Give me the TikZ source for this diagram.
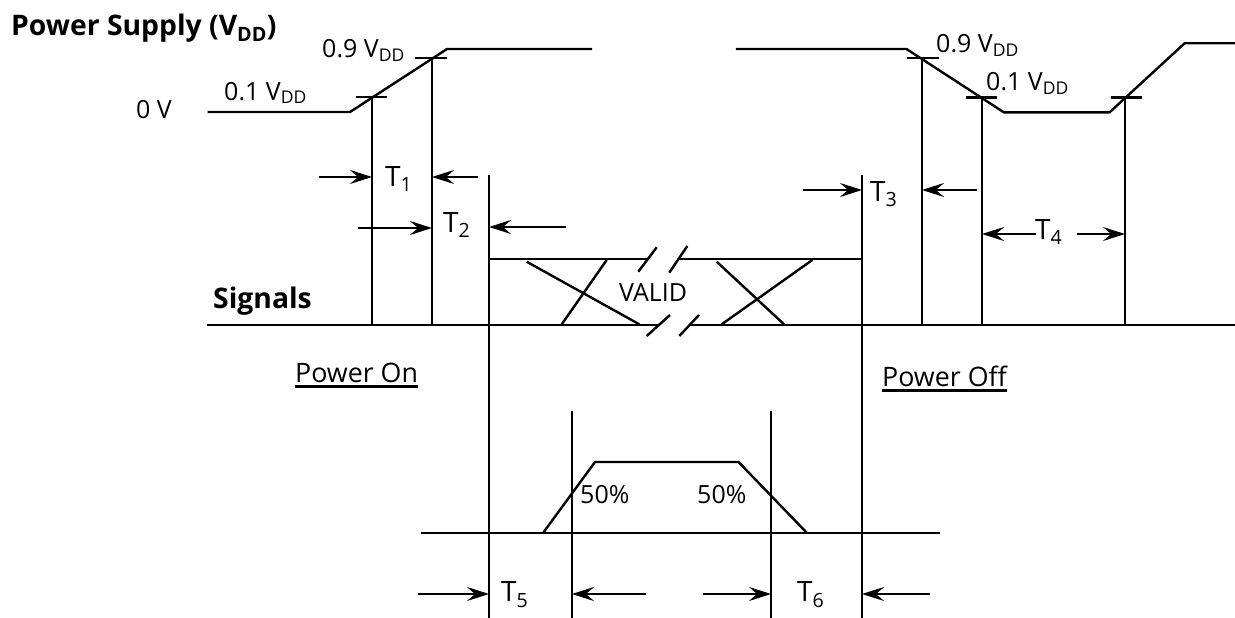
\documentclass[tikz,border=0pt]{standalone}
\usepackage{fontspec}
\setmainfont{Open Sans}
\usetikzlibrary{arrows.meta}
\newcommand\vdd{V\textsubscript{DD}}
\begin{document}
\begin{tikzpicture}[x=1pt,y=-1pt,
  wave/.style={line width=2.4pt, line join=round},
  tickmark/.style={line width=2.4pt},
  guide/.style={line width=2.6pt},
  dimarrow/.style={line width=2.4pt,-{Stealth[length=22pt,width=14pt,inset=8pt]}},
  lbl/.style={inner sep=0pt, anchor=base west, font=\fontsize{25}{28}\selectfont},
  tlbl/.style={inner sep=0pt, anchor=base west, font=\fontsize{28}{32}\selectfont},
  head/.style={inner sep=0pt, anchor=base west, font=\fontsize{28.3}{32}\selectfont\bfseries},
  ulbl/.style={inner sep=0pt, anchor=base west, font=\fontsize{26.8}{30}\selectfont},
]
\useasboundingbox[fill=white] (0,0) rectangle (1235,618);

% ---------- headings ----------
\node[head] (ps) at (11,36) {Power Supply (\vdd)};
\node[head] (sig) at (213,308) {Signals};

% ---------- power supply waveform, power on ----------
\draw[wave] (207.5,112) -- (350,112) -- (447,49) -- (592,49);
\draw[tickmark] (356,97) -- (387,97);
\draw[tickmark] (415,58) -- (447,58);
\node[lbl] (zv) at (136,118) {0 V};
\node[lbl] (l01) at (224,100) {0.1 \vdd};
\node[lbl] (l09) at (322,58) {0.9 \vdd};

% ---------- power supply waveform, power off ----------
\draw[wave] (735.8,49) -- (906.5,49) -- (1003.8,112.3) -- (1109.6,112.3) -- (1184.6,43.3) -- (1235,43.3);
\draw[tickmark] (906.5,58.3) -- (939,58.3);
\draw[tickmark] (965.5,97.7) -- (997,97.7);
\draw[tickmark] (1111,97.7) -- (1142,97.7);
\node[lbl] (r09) at (936,52.7) {0.9 \vdd};
\node[lbl] (r01) at (986,90.7) {0.1 \vdd};

% ---------- vertical guide lines ----------
\draw[guide] (372,97) -- (372,325);
\draw[guide] (432,58) -- (432,325);
\draw[guide] (489,175) -- (489,618);
\draw[guide] (862,175) -- (862,618);
\draw[guide] (922,58.3) -- (922,325);
\draw[guide] (982,97.7) -- (982,325);
\draw[guide] (1125,97.7) -- (1125,325);
\draw[guide] (572,411) -- (572,618);
\draw[guide] (771,411) -- (771,618);

% ---------- signals ----------
\draw[wave] (207,325) -- (658,325);
\draw[wave] (690,325) -- (1235,325);
\draw[wave] (489,259) -- (647.5,259);
\draw[wave] (678,259) -- (862,259);
% crossings
\draw[wave] (526.7,261.7) -- (639.3,324.3);
\draw[wave] (561.7,324.3) -- (606.7,260);
\draw[wave] (716.7,261.7) -- (784,324.3);
\draw[wave] (721.7,324.3) -- (812.3,260);
% break marks
\draw[wave] (638.3,271.7) -- (656.7,247.3);
\draw[wave] (669.3,272.7) -- (687.3,246);
\draw[wave] (646.7,336) -- (670,315);
\draw[wave] (679.3,336) -- (699,315);
\node[lbl] (valid) at (619,301.7) {VALID};

% ---------- power on / off ----------
\node[ulbl] (pon) at (295,382) {Power On};
\draw[line width=2.2pt] ([yshift=-4.5pt]pon.base west) -- ([yshift=-4.5pt]pon.base east);
\node[ulbl] (poff) at (882,386) {Power Off};
\draw[line width=2.2pt] ([yshift=-4.5pt]poff.base west) -- ([yshift=-4.5pt]poff.base east);

% ---------- bottom pulse ----------
\draw[wave] (421,533) -- (940,533);
\draw[wave] (543,533) -- (595,462) -- (738.5,462) -- (807,533);
\node[lbl] (p1) at (580,503.3) {50\%};
\node[lbl] (p2) at (697,503.3) {50\%};

% ---------- dimension arrows ----------
\draw[dimarrow] (319,177) -- (372,177);
\draw[dimarrow] (478,177) -- (432,177);
\node[tlbl] (t1) at (385,186) {T\textsubscript{1}};

\draw[dimarrow] (358,228) -- (432,228);
\draw[dimarrow] (565.7,227) -- (489,227);
\node[tlbl] (t2) at (443,232) {T\textsubscript{2}};

\draw[dimarrow] (803.4,190) -- (862,190);
\draw[dimarrow] (976.5,190) -- (922,190);
\node[tlbl] (t3) at (870,201) {T\textsubscript{3}};

\draw[dimarrow] (1036,234) -- (982,234);
\draw[dimarrow] (1077,234) -- (1125,234);
\node[tlbl] (t4) at (1035,239) {T\textsubscript{4}};

\draw[dimarrow] (417.5,594) -- (489,594);
\draw[dimarrow] (645.5,594) -- (572,594);
\node[tlbl] (t5) at (501,601.7) {T\textsubscript{5}};

\draw[dimarrow] (703,594) -- (771,594);
\draw[dimarrow] (929.6,594) -- (862,594);
\node[tlbl] (t6) at (797,601.7) {T\textsubscript{6}};
\end{tikzpicture}
\end{document}
